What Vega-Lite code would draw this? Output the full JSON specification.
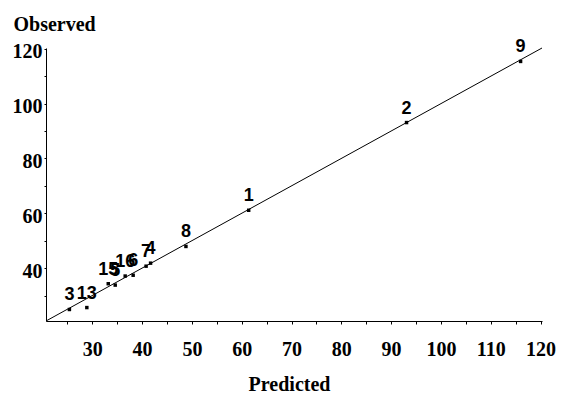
{
  "$schema": "https://vega.github.io/schema/vega-lite/v6.json",
  "autosize": "none",
  "width": 496,
  "height": 273,
  "padding": {"left": 46, "top": 48, "right": 21, "bottom": 82},
  "background": "white",
  "config": {"view": {"stroke": null}},
  "datasets": {
    "pts": [
      {"id": "1", "predicted": 61.4, "observed": 61.1},
      {"id": "2", "predicted": 93.1, "observed": 93.1},
      {"id": "3", "predicted": 25.4, "observed": 24.9},
      {"id": "4", "predicted": 41.7, "observed": 41.8},
      {"id": "5", "predicted": 34.6, "observed": 33.8},
      {"id": "6", "predicted": 38.2, "observed": 37.4},
      {"id": "7", "predicted": 40.8, "observed": 40.7},
      {"id": "8", "predicted": 48.8, "observed": 47.9},
      {"id": "9", "predicted": 116.0, "observed": 115.4},
      {"id": "13", "predicted": 28.9, "observed": 25.6},
      {"id": "15", "predicted": 33.2, "observed": 34.3},
      {"id": "16", "predicted": 36.6, "observed": 37.1}
    ],
    "diag": [
      {"predicted": 20.7, "observed": 20.7},
      {"predicted": 120.3, "observed": 120.3}
    ]
  },
  "resolve": {"scale": {"x": "independent", "y": "independent"}},
  "layer": [
    {
      "data": {"name": "diag"},
      "mark": {"type": "line", "color": "black", "strokeWidth": 1},
      "encoding": {
        "x": {
          "field": "predicted", "type": "quantitative",
          "scale": {"domain": [20.7, 120.3], "nice": false, "zero": false},
          "axis": {
            "orient": "bottom",
            "title": "Predicted",
            "titleFont": "Liberation Serif", "titleFontSize": 20, "titleFontWeight": "bold", "titleColor": "black",
            "titleAlign": "center", "titleBaseline": "alphabetic", "titleX": 243, "titleY": 69,
            "values": [30, 40, 50, 60, 70, 80, 90, 100, 110, 120],
            "labelFont": "Liberation Serif", "labelFontSize": 20, "labelFontWeight": "bold", "labelColor": "black",
            "labelPadding": 15, "labelOverlap": false, "labelFlush": false,
            "tickSize": 3, "tickColor": "black", "domainColor": "black", "grid": false
          }
        },
        "y": {
          "field": "observed", "type": "quantitative",
          "scale": {"domain": [20.7, 120.3], "nice": false, "zero": false},
          "axis": {
            "orient": "left",
            "title": "Observed",
            "titleFont": "Liberation Serif", "titleFontSize": 20, "titleFontWeight": "bold", "titleColor": "black",
            "titleAngle": 0, "titleAlign": "left", "titleBaseline": "alphabetic", "titleX": -33, "titleY": -18,
            "values": [40, 60, 80, 100, 120],
            "labelFont": "Liberation Serif", "labelFontSize": 20, "labelFontWeight": "bold", "labelColor": "black",
            "labelPadding": 2, "labelOffset": 3, "labelOverlap": false, "labelFlush": false,
            "tickSize": 2, "tickColor": "black", "domainColor": "black", "grid": false
          }
        }
      }
    },
    {
      "data": {"name": "pts"},
      "mark": {"type": "point", "shape": "square", "filled": true, "color": "black", "size": 12, "opacity": 1},
      "encoding": {
        "x": {
          "field": "predicted", "type": "quantitative",
          "scale": {"domain": [20.7, 120.3], "nice": false, "zero": false},
          "axis": {"orient": "bottom", "title": null, "labels": false, "domain": false, "grid": false,
                   "values": [25, 35, 45, 55, 65, 75, 85, 95, 105, 115], "tickSize": 3, "tickColor": "black"}
        },
        "y": {
          "field": "observed", "type": "quantitative",
          "scale": {"domain": [20.7, 120.3], "nice": false, "zero": false},
          "axis": {"orient": "left", "title": null, "labels": false, "domain": false, "grid": false,
                   "values": [30, 50, 70, 90, 110], "tickSize": 2, "tickColor": "black"}
        }
      }
    },
    {
      "data": {"name": "pts"},
      "mark": {"type": "text", "font": "Liberation Sans", "fontWeight": "bold", "fontSize": 18, "color": "black", "align": "center", "baseline": "alphabetic", "dy": -9},
      "encoding": {
        "x": {"field": "predicted", "type": "quantitative", "scale": {"domain": [20.7, 120.3], "nice": false, "zero": false}, "axis": null},
        "y": {"field": "observed", "type": "quantitative", "scale": {"domain": [20.7, 120.3], "nice": false, "zero": false}, "axis": null},
        "text": {"field": "id"}
      }
    }
  ]
}
